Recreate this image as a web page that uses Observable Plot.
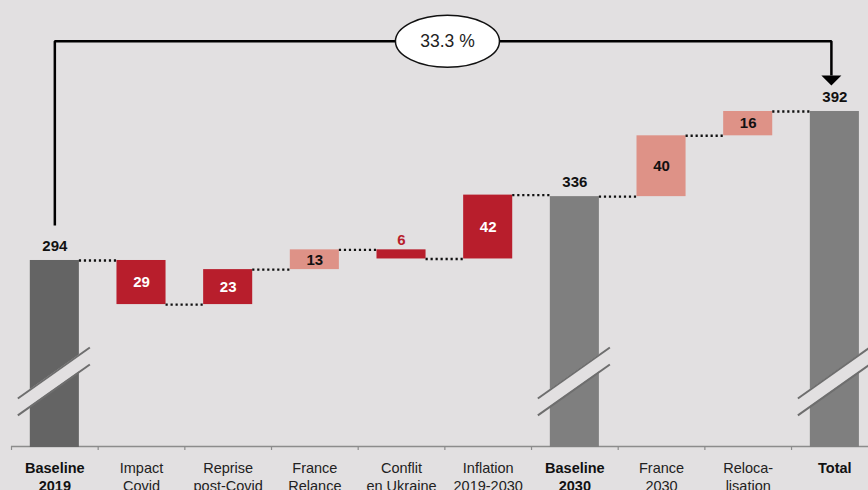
<!DOCTYPE html>
<html><head><meta charset="utf-8">
<script src="https://cdn.jsdelivr.net/npm/d3@7"></script>
<script src="https://cdn.jsdelivr.net/npm/@observablehq/plot@0.6"></script>
<style>
html,body{margin:0;padding:0;background:#e2e0e1;overflow:hidden;}
#chart{width:868px;height:490px;overflow:hidden;position:relative;}
</style></head><body><div id="chart"></div>
<script>
// ---- data ----
const categories = ["Baseline\n2019","Impact\nCovid","Reprise\npost-Covid","France\nRelance","Conflit\nen Ukraine","Inflation\n2019-2030","Baseline\n2030","France\n2030","Reloca-\nlisation","Total"];
const values = [294, -29, 23, 13, -6, 42, 336, 40, 16, 392];
const kinds = ["total","delta","delta","delta","delta","delta","total","delta","delta","total"];
const groups = ["baseline2019","macro","macro","plan","macro","macro","baseline","plan","plan","baseline"];

// ---- styles ----
const bg = "#e2e0e1";
const font = "'Liberation Sans', Arial, Helvetica, sans-serif";
const colors = {baseline2019: "#646464", baseline: "#7f7f7f", macro: "#b81e2c", plan: "#de9287"};
const yMin = 171, yMax = 465;
const hw = 0.283;          // half bar width in band units
const xEnd = 9.388;

// running totals
let run = 0;
const rows = categories.map((c, i) => {
  let y1, y2;
  if (kinds[i] === "total") { y1 = yMin; y2 = values[i]; run = values[i]; }
  else { y1 = run; y2 = run + values[i]; run = y2; }
  return {i, c, value: values[i], kind: kinds[i], group: groups[i], y1, y2, end: y2, mid: (y1 + y2) / 2};
});
const totals = rows.filter(d => d.kind === "total");
const deltas = rows.filter(d => d.kind === "delta");
const boldCats = rows.filter(d => d.kind === "total");
const regCats = rows.filter(d => d.kind === "delta");

const first = values[0], last = values[values.length - 1];
const pct = d3.format(".1f")((last - first) / first * 100) + " %";

// break marks geometry (value units)
const brk = {xl: -0.427, xr: 0.404, lowL: 192.1, lowR: 225.6, hiL: 203.2, hiR: 236.8};
const breakArea = totals.flatMap(d => [
  {i: d.i, x: d.i + brk.xl, lo: brk.lowL, hi: brk.hiL},
  {i: d.i, x: d.i + brk.xr, lo: brk.lowR, hi: brk.hiR}
]);

// bracket
const bracketTop = 438.2, bracketStart = 317, arrowY = 415.7, arrowX = 8.96;
const bracket = [
  {x: 0, y: bracketStart}, {x: 0, y: bracketTop},
  {x: arrowX, y: bracketTop}, {x: arrowX, y: arrowY}
];

const ellipseSym = {draw(ctx) {
  const rx = 52, ry = 26, k = 0.5523;
  ctx.moveTo(rx, 0);
  ctx.bezierCurveTo(rx, ry * k, rx * k, ry, 0, ry);
  ctx.bezierCurveTo(-rx * k, ry, -rx, ry * k, -rx, 0);
  ctx.bezierCurveTo(-rx, -ry * k, -rx * k, -ry, 0, -ry);
  ctx.bezierCurveTo(rx * k, -ry, rx, -ry * k, rx, 0);
  ctx.closePath();
}};
const triSym = {draw(ctx) {
  ctx.moveTo(-10, 0); ctx.lineTo(10, 0); ctx.lineTo(0, 10); ctx.closePath();
}};

const chart = Plot.plot({
  width: 868, height: 490,
  marginTop: 0, marginBottom: 43, marginLeft: 11, marginRight: 0,
  x: {type: "linear", domain: [-0.5, xEnd], axis: null},
  y: {domain: [yMin, yMax], axis: null},
  color: {type: "identity"},
  style: {background: "transparent", fontFamily: font, overflow: "visible"},
  marks: [
    // axis line and ticks
    Plot.ruleY([yMin], {x1: -0.5, x2: xEnd, stroke: "#8c8c8c", strokeWidth: 1.5, dy: -1}),
    Plot.ruleX(d3.range(10).map(i => i - 0.5), {y1: yMin, y2: yMin, insetBottom: -4, dy: -1, stroke: "#8c8c8c", strokeWidth: 1.2}),
    // bars
    Plot.rect(rows, {x1: d => d.i - hw, x2: d => d.i + hw, y1: "y1", y2: "y2", fill: d => colors[d.group]}),
    // axis breaks
    Plot.areaY(breakArea, {x: "x", y1: "lo", y2: "hi", z: "i", fill: bg}),
    Plot.link(totals, {x1: d => d.i + brk.xl, x2: d => d.i + brk.xr, y1: brk.hiL, y2: brk.hiR, stroke: "#6e6e6e", strokeWidth: 2}),
    Plot.link(totals, {x1: d => d.i + brk.xl, x2: d => d.i + brk.xr, y1: brk.lowL, y2: brk.lowR, stroke: "#6e6e6e", strokeWidth: 2}),
    // connectors
    Plot.ruleY(rows.slice(0, -1), {y: "end", x1: d => d.i + hw, x2: d => d.i + 1 - hw, stroke: "#111", strokeWidth: 2.4, strokeDasharray: "2.2 2.8"}),
    // value labels
    Plot.text(totals, {x: "i", y: "end", text: d => String(d.value), dy: -14, fontWeight: "bold", fontSize: 15, fill: "#111"}),
    Plot.text(deltas.filter(d => Math.abs(d.value) >= 10), {x: "i", y: "mid", text: d => String(Math.abs(d.value)), fontWeight: "bold", fontSize: 15, fill: d => d.group === "macro" ? "#ffffff" : "#111111"}),
    Plot.text(deltas.filter(d => Math.abs(d.value) < 10), {x: "i", y: d => Math.max(d.y1, d.y2), text: d => String(Math.abs(d.value)), dy: -10, fontWeight: "bold", fontSize: 15, fill: d => colors[d.group]}),
    // bracket with arrow and growth label
    Plot.line(bracket, {x: "x", y: "y", stroke: "#000", strokeWidth: 2.5, strokeLinejoin: "miter", strokeLinecap: "butt", curve: "linear"}),
    Plot.dot([{x: arrowX, y: arrowY}], {x: "x", y: "y", symbol: triSym, fill: "#000", stroke: "none"}),
    Plot.dot([{x: 4.53, y: bracketTop}], {x: "x", y: "y", symbol: ellipseSym, fill: "#ffffff", stroke: "#111", strokeWidth: 1.5}),
    Plot.text([{x: 4.53, y: bracketTop, t: pct}], {x: "x", y: "y", text: "t", fontSize: 17.5, fill: "#222"}),
    // category labels
    Plot.text(boldCats, {x: "i", y: yMin, text: "c", lineAnchor: "top", dy: 13, fontSize: 14.5, lineHeight: 1.22, fontWeight: "bold", fill: "#111"}),
    Plot.text(regCats, {x: "i", y: yMin, text: "c", lineAnchor: "top", dy: 13, fontSize: 14.5, lineHeight: 1.22, fill: "#222"})
  ]
});
document.getElementById("chart").appendChild(chart);
</script>
</body></html>
